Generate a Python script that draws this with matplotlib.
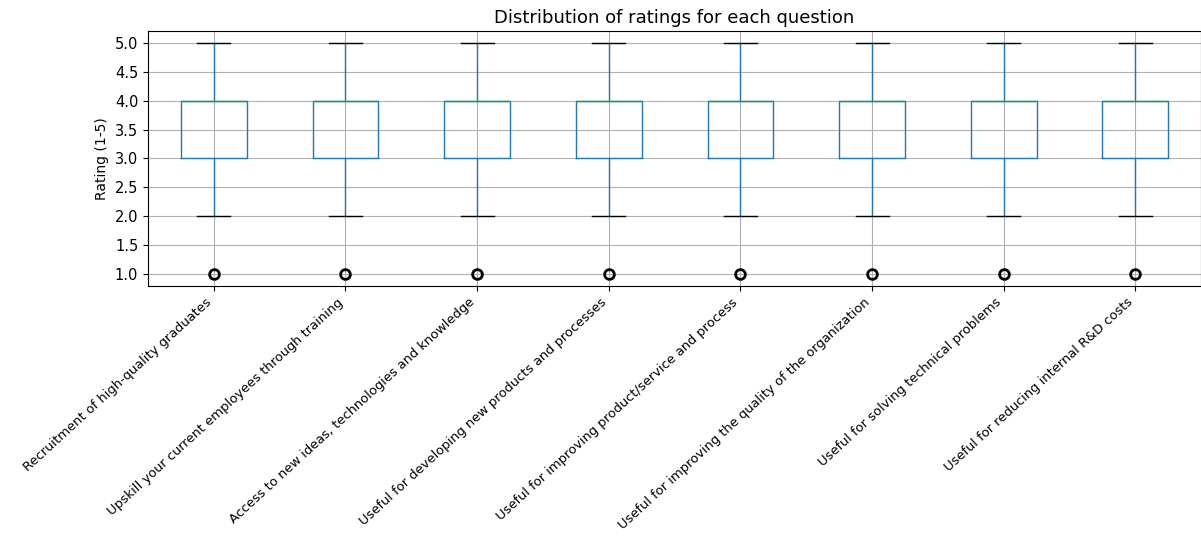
import numpy as np
import pandas as pd
import matplotlib
matplotlib.use('Agg')
import matplotlib.pyplot as plt
from matplotlib.ticker import MultipleLocator, FormatStrFormatter

questions = [
    'Recruitment of high-quality graduates',
    'Upskill your current employees through training',
    'Access to new ideas, technologies and knowledge',
    'Useful for developing new products and processes',
    'Useful for improving product/service and process',
    'Useful for improving the quality of the organization',
    'Useful for solving technical problems',
    'Useful for reducing internal R&D costs',
]

# rating scale and estimated answer counts per question
ratings = [1, 2, 3, 4, 5]
counts = [
    [1, 3, 6, 8, 4],
    [1, 3, 6, 8, 4],
    [1, 3, 6, 8, 4],
    [1, 3, 6, 8, 4],
    [1, 3, 6, 8, 4],
    [1, 3, 6, 8, 4],
    [1, 3, 6, 8, 4],
    [1, 3, 6, 8, 4],
]

df = pd.DataFrame({q: np.repeat(ratings, c) for q, c in zip(questions, counts)})

fig = plt.figure(figsize=(12.01, 5.36), dpi=100)
ax = fig.add_axes([0.1232, 0.4664, 0.877, 0.4758])
df.boxplot(ax=ax, grid=True,
           flierprops=dict(marker='o', markersize=7, markeredgewidth=2,
                           markeredgecolor='black', markerfacecolor='none'))

ax.set_title('Distribution of ratings for each question', fontsize=13)
ax.set_ylabel('Rating (1-5)')
ax.yaxis.set_major_locator(MultipleLocator(0.5))
ax.yaxis.set_major_formatter(FormatStrFormatter('%.1f'))
ax.tick_params(axis='y', labelsize=10.5)
plt.setp(ax.get_xticklabels(), rotation=42.5, ha='right',
         rotation_mode='default', fontsize=9.4)

fig.savefig('out.png', dpi=100)
